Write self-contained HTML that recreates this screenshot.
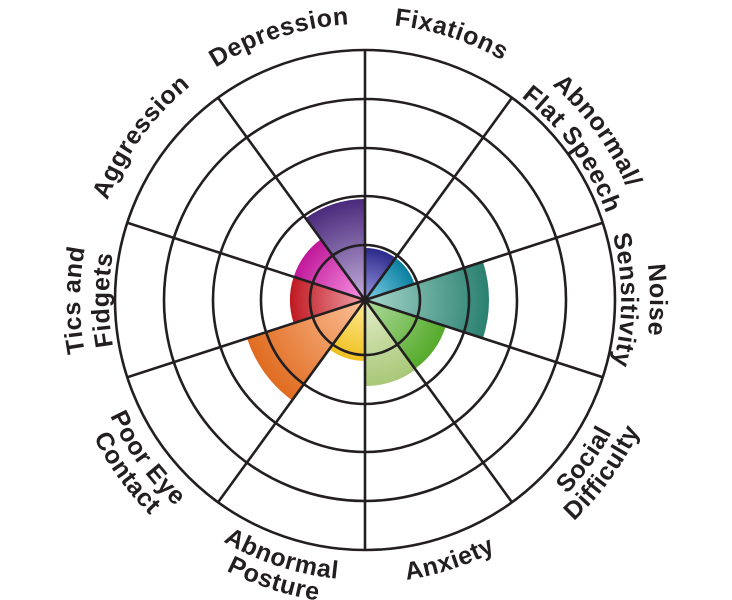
<!DOCTYPE html>
<html><head><meta charset="utf-8"><style>
html,body{margin:0;padding:0;background:#fff;}
svg{display:block;}
text{font-family:"Liberation Sans",sans-serif;font-weight:bold;font-size:25px;letter-spacing:0.6px;fill:#231f20;}
</style></head><body>
<svg width="732" height="600" viewBox="0 0 732 600">
<defs>
<radialGradient id="g0" gradientUnits="userSpaceOnUse" cx="365" cy="300" r="52"><stop offset="0" stop-color="#9a98e0"/><stop offset="1" stop-color="#2c2a8a"/></radialGradient>
<radialGradient id="g1" gradientUnits="userSpaceOnUse" cx="365" cy="300" r="52"><stop offset="0" stop-color="#80d0e8"/><stop offset="1" stop-color="#0a7fa0"/></radialGradient>
<radialGradient id="g2" gradientUnits="userSpaceOnUse" cx="365" cy="300" r="124"><stop offset="0" stop-color="#a8d8cc"/><stop offset="1" stop-color="#2a8070"/></radialGradient>
<radialGradient id="g3" gradientUnits="userSpaceOnUse" cx="365" cy="300" r="85"><stop offset="0" stop-color="#b0dca0"/><stop offset="1" stop-color="#55aa2a"/></radialGradient>
<radialGradient id="g4" gradientUnits="userSpaceOnUse" cx="365" cy="300" r="86"><stop offset="0" stop-color="#e4eec8"/><stop offset="1" stop-color="#a8c878"/></radialGradient>
<radialGradient id="g5" gradientUnits="userSpaceOnUse" cx="365" cy="300" r="61"><stop offset="0" stop-color="#feec98"/><stop offset="1" stop-color="#f0c020"/></radialGradient>
<radialGradient id="g6" gradientUnits="userSpaceOnUse" cx="365" cy="300" r="124"><stop offset="0" stop-color="#fcc098"/><stop offset="1" stop-color="#e06c20"/></radialGradient>
<radialGradient id="g7" gradientUnits="userSpaceOnUse" cx="365" cy="300" r="75"><stop offset="0" stop-color="#f0a0a8"/><stop offset="1" stop-color="#c01a22"/></radialGradient>
<radialGradient id="g8" gradientUnits="userSpaceOnUse" cx="365" cy="300" r="75"><stop offset="0" stop-color="#f898e4"/><stop offset="1" stop-color="#c0189a"/></radialGradient>
<radialGradient id="g9" gradientUnits="userSpaceOnUse" cx="365" cy="300" r="101"><stop offset="0" stop-color="#c4b0dc"/><stop offset="1" stop-color="#4a2a7c"/></radialGradient>
<path id="t276" d="M105.6,205.6 A276,276 0 0 1 624.4,205.6"/>
<path id="t256" d="M124.4,212.4 A256,256 0 0 1 605.6,212.4"/>
<path id="t285" d="M97.2,202.5 A285,285 0 0 1 632.8,202.5"/>
<path id="b283" d="M99.1,396.8 A283,283 0 0 0 630.9,396.8"/>
<path id="b280" d="M101.9,395.8 A280,280 0 0 0 628.1,395.8"/>
<path id="b304" d="M79.3,404 A304,304 0 0 0 650.7,404"/>
</defs>
<path d="M365,300 L365,248 A52,52 0 0 1 395.6,257.9 Z" fill="url(#g0)"/>
<path d="M365,300 L365,248 A52,52 0 0 1 395.6,257.9 Z" fill="url(#g1)" transform="rotate(36 365 300)"/>
<path d="M365,300 L365,176 A124,124 0 0 1 437.9,199.7 Z" fill="url(#g2)" transform="rotate(72 365 300)"/>
<path d="M365,300 L365,215 A85,85 0 0 1 415,231.2 Z" fill="url(#g3)" transform="rotate(108 365 300)"/>
<path d="M365,300 L365,214 A86,86 0 0 1 415.6,230.4 Z" fill="url(#g4)" transform="rotate(144 365 300)"/>
<path d="M365,300 L365,239 A61,61 0 0 1 400.9,250.7 Z" fill="url(#g5)" transform="rotate(180 365 300)"/>
<path d="M365,300 L365,176 A124,124 0 0 1 437.9,199.7 Z" fill="url(#g6)" transform="rotate(216 365 300)"/>
<path d="M365,300 L365,225 A75,75 0 0 1 409.1,239.3 Z" fill="url(#g7)" transform="rotate(252 365 300)"/>
<path d="M365,300 L365,225 A75,75 0 0 1 409.1,239.3 Z" fill="url(#g8)" transform="rotate(288 365 300)"/>
<path d="M365,300 L365,199 A101,101 0 0 1 424.4,218.3 Z" fill="url(#g9)" transform="rotate(324 365 300)"/>
<g fill="none" stroke="#231f20" stroke-width="2.6">
<circle cx="365" cy="300" r="55"/>
<circle cx="365" cy="300" r="104"/>
<circle cx="365" cy="300" r="152"/>
<circle cx="365" cy="300" r="201"/>
<circle cx="365" cy="300" r="250"/>
<line x1="365" y1="50" x2="365" y2="550"/>
<line x1="365" y1="50" x2="365" y2="550" transform="rotate(36 365 300)"/>
<line x1="365" y1="50" x2="365" y2="550" transform="rotate(72 365 300)"/>
<line x1="365" y1="50" x2="365" y2="550" transform="rotate(108 365 300)"/>
<line x1="365" y1="50" x2="365" y2="550" transform="rotate(144 365 300)"/>
</g>
<circle cx="365" cy="300" r="3" fill="#231f20"/>
<text transform="rotate(18 365 300)"><textPath href="#t276" startOffset="50%" text-anchor="middle">Fixations</textPath></text>
<text transform="rotate(54 365 300)"><textPath href="#t285" startOffset="50%" text-anchor="middle">Abnormal/</textPath></text>
<text transform="rotate(54 365 300)"><textPath href="#t256" startOffset="50%" text-anchor="middle">Flat Speech</textPath></text>
<text transform="rotate(90 365 300)"><textPath href="#t285" startOffset="50%" text-anchor="middle">Noise</textPath></text>
<text transform="rotate(90 365 300)"><textPath href="#t256" startOffset="50%" text-anchor="middle">Sensitivity</textPath></text>
<text transform="rotate(-54 365 300)"><textPath href="#b280" startOffset="50%" text-anchor="middle">Social</textPath></text>
<text transform="rotate(-54 365 300)"><textPath href="#b304" startOffset="50%" text-anchor="middle">Difficulty</textPath></text>
<text transform="rotate(-18 365 300)"><textPath href="#b283" startOffset="50%" text-anchor="middle">Anxiety</textPath></text>
<text transform="rotate(18 365 300)"><textPath href="#b280" startOffset="50%" text-anchor="middle">Abnormal</textPath></text>
<text transform="rotate(18 365 300)"><textPath href="#b304" startOffset="50%" text-anchor="middle">Posture</textPath></text>
<text transform="rotate(54 365 300)"><textPath href="#b280" startOffset="50%" text-anchor="middle">Poor Eye</textPath></text>
<text transform="rotate(54 365 300)"><textPath href="#b304" startOffset="50%" text-anchor="middle">Contact</textPath></text>
<text transform="rotate(270 365 300)"><textPath href="#t285" startOffset="50%" text-anchor="middle">Tics and</textPath></text>
<text transform="rotate(270 365 300)"><textPath href="#t256" startOffset="50%" text-anchor="middle">Fidgets</textPath></text>
<text transform="rotate(306 365 300)"><textPath href="#t276" startOffset="50%" text-anchor="middle">Aggression</textPath></text>
<text transform="rotate(342 365 300)"><textPath href="#t276" startOffset="50%" text-anchor="middle">Depression</textPath></text>
</svg>
</body></html>
